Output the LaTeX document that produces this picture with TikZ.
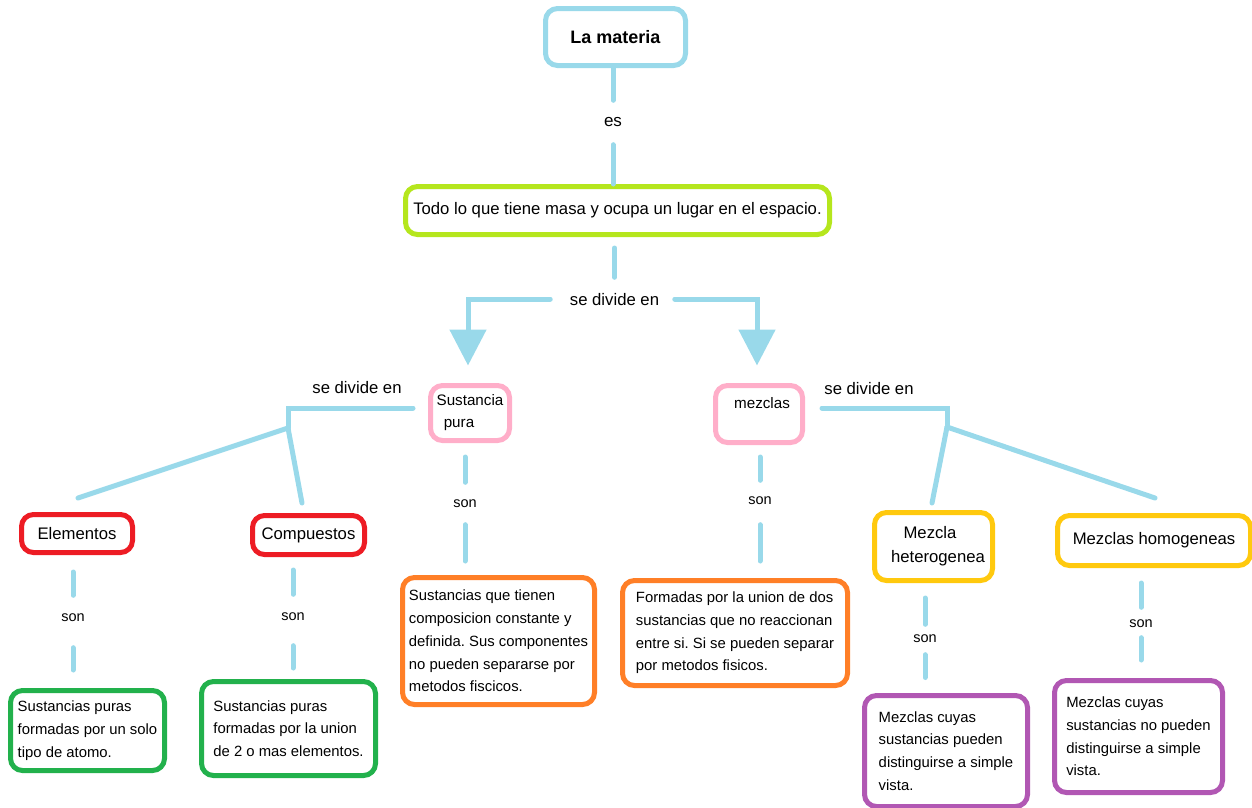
\documentclass[tikz,border=0pt]{standalone}
\usepackage{fontspec}
\setmainfont{Liberation Sans}
\usetikzlibrary{arrows.meta}
\frenchspacing
\definecolor{lblue}{HTML}{99D9EA}
\definecolor{lime}{HTML}{B5E61D}
\definecolor{pinkc}{HTML}{FFAEC9}
\definecolor{redc}{HTML}{ED1C24}
\definecolor{greenc}{HTML}{22B14C}
\definecolor{orangec}{HTML}{FF7F27}
\definecolor{goldc}{HTML}{FFC90E}
\definecolor{purplec}{HTML}{B157B3}
\tikzset{
  box/.style={draw, line width=5pt, rounded corners=12pt, inner sep=0pt, align=center, fill=white},
  desc/.style={box, align=left, font=\fontsize{14.85}{22.7}\selectfont},
  big/.style={font=\fontsize{16.7}{22}\selectfont},
  conn/.style={draw=lblue, line width=5pt, line cap=round},
  lab/.style={inner sep=0pt, text height=12pt, text depth=0pt, font=\fontsize{16.7}{20}\selectfont},
  sonlab/.style={inner sep=0pt, text height=8pt, text depth=0pt, font=\fontsize{14.5}{18}\selectfont},
  bigtip/.style={-{Triangle[width=36pt,length=36pt]}}
}
\begin{document}
\begin{tikzpicture}[x=1pt,y=-1pt]
\useasboundingbox (0,0) rectangle (1252,807);
\clip (0,0) rectangle (1252,807);
% boxes
\node[box, draw=lblue, minimum width=140pt, minimum height=57pt, font=\bfseries\fontsize{18}{22}\selectfont] (mat) at (615.5,37) {La materia};
\node[box, draw=lime, minimum width=424pt, minimum height=48pt, big] (todo) at (617.5,210.5) {Todo lo que tiene masa y ocupa un lugar en el espacio.};
\node[box, draw=pinkc, minimum width=79pt, minimum height=55pt, font=\fontsize{15.2}{22}\selectfont] (sp) at (470,413) {Sustancia\\pura\hspace*{22pt}};
\node[box, draw=pinkc, minimum width=87pt, minimum height=57pt, font=\fontsize{15.2}{22}\selectfont] (mz) at (759,414) {\hspace*{6pt}mezclas\\\mbox{}};
\node[box, draw=redc, minimum width=111pt, minimum height=38pt, big] (el) at (77,533.5) {Elementos};
\node[box, draw=redc, minimum width=112pt, minimum height=39pt, big] (co) at (308.5,535) {Compuestos};
\node[box, draw=goldc, minimum width=118pt, minimum height=68pt, font=\fontsize{16.7}{24}\selectfont] (he) at (933.5,546.5) {Mezcla\hspace*{7pt}\\\hspace*{9pt}heterogenea};
\node[box, draw=goldc, minimum width=193pt, minimum height=50pt, big] (ho) at (1154,540.5) {Mezclas homogeneas};
\node[desc, draw=greenc, minimum width=154pt, minimum height=80pt] (d1) at (87.5,730.5) {Sustancias puras\\formadas por un solo\\tipo de atomo.};
\node[desc, draw=greenc, minimum width=174pt, minimum height=94pt] (d2) at (288.5,728.5) {Sustancias puras\\formadas por la union\\de 2 o mas elementos.};
\node[desc, draw=orangec, minimum width=192pt, minimum height=127pt] (d3) at (498.5,641) {Sustancias que tienen\\composicion constante y\\definida. Sus componentes\\no pueden separarse por\\metodos fiscicos.};
\node[desc, draw=orangec, minimum width=225pt, minimum height=105pt] (d4) at (735,633) {Formadas por la union de dos\\sustancias que no reaccionan\\entre si. Si se pueden separar\\por metodos fisicos.};
\node[desc, draw=purplec, minimum width=163pt, minimum height=111pt] (d5) at (946,751) {Mezclas cuyas\\sustancias pueden\\distinguirse a simple\\vista.};
\node[desc, draw=purplec, minimum width=168pt, minimum height=112pt] (d6) at (1138.5,736.5) {Mezclas cuyas\\sustancias no pueden\\distinguirse a simple\\vista.};
% labels
\node[sonlab, font=\fontsize{17}{20}\selectfont] (es) at (613,122) {es};
\node[lab] (sd1) at (614.5,299) {se divide en};
\node[lab] (sdL) at (357,387) {se divide en};
\node[lab] (sdR) at (869,388) {se divide en};
\node[sonlab] (s1) at (73,617) {son};
\node[sonlab] (s2) at (293,616) {son};
\node[sonlab] (s3) at (465,503) {son};
\node[sonlab] (s4) at (760,500) {son};
\node[sonlab] (s5) at (925,638) {son};
\node[sonlab] (s6) at (1141,623) {son};
% junctions
\coordinate (J1) at (288,428);
\coordinate (E1) at (78,498);
\coordinate (C1) at (302,503);
\coordinate (J2) at (947,427);
\coordinate (H1) at (932,503);
\coordinate (O1) at (1155,498);
% connectors
\draw[conn, shorten >=17.5pt] (mat.south -| es) -- (es.north);
\draw[conn, shorten <=18.5pt] (es.south) -- (es |- todo.north);
\draw[conn, shorten <=11pt, shorten >=15.5pt] (todo.south -| sd1) -- (sd1.north);
\draw[conn, bigtip, shorten <=19.5pt, shorten >=17.5pt] (sd1.west) -| ([xshift=-2pt]sp.north);
\draw[conn, bigtip, shorten <=15.5pt, shorten >=17.5pt] (sd1.east) -| ([xshift=-2pt]mz.north);
\draw[conn, shorten <=15pt] ([yshift=5pt]sp.west) -| (J1);
\draw[conn] (J1) -- (E1);
\draw[conn] (J1) -- (C1);
\draw[conn, shorten <=17pt] ([yshift=6pt]mz.east) -| (J2);
\draw[conn] (J2) -- (H1);
\draw[conn] (J2) -- (O1);
\draw[conn, shorten <=17pt, shorten >=17.5pt] (el.south -| s1) -- (s1.north);
\draw[conn, shorten <=26.5pt, shorten >=18pt] (s1.south) -- (s1 |- d1.north);
\draw[conn, shorten <=13pt, shorten >=17.5pt] (co.south -| s2) -- (s2.north);
\draw[conn, shorten <=25.5pt, shorten >=11pt] (s2.south) -- (s2 |- d2.north);
\draw[conn, shorten <=14pt, shorten >=16.5pt] (sp.south -| s3) -- (s3.north);
\draw[conn, shorten <=17.5pt, shorten >=14pt] (s3.south) -- (s3 |- d3.north);
\draw[conn, shorten <=12pt, shorten >=15.5pt] (mz.south -| s4) -- (s4.north);
\draw[conn, shorten <=20.5pt, shorten >=17pt] (s4.south) -- (s4 |- d4.north);
\draw[conn, shorten <=15pt, shorten >=9.5pt] (he.south -| s5) -- (s5.north);
\draw[conn, shorten <=12.5pt, shorten >=15.5pt] (s5.south) -- (s5 |- d5.north);
\draw[conn, shorten <=15pt, shorten >=11.5pt] (ho.south -| s6) -- (s6.north);
\draw[conn, shorten <=10.5pt, shorten >=18pt] (s6.south) -- (s6 |- d6.north);
\end{tikzpicture}
\end{document}
